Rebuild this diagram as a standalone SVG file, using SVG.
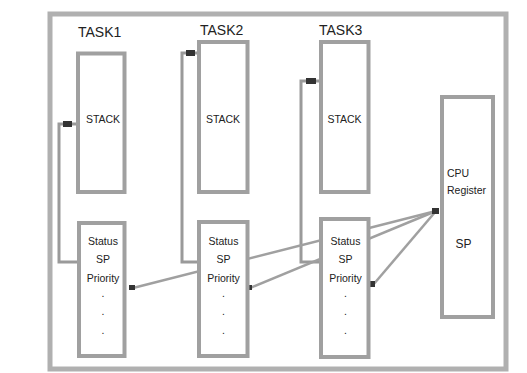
<svg xmlns="http://www.w3.org/2000/svg" width="527" height="373" viewBox="0 0 527 373">
<style>
.frame{fill:#fff;stroke:#b0b0b0;stroke-width:5}
.box{fill:#fff;stroke:#a0a0a0;stroke-width:4}
.wire{fill:none;stroke:#9a9a9a;stroke-width:3}
.diag{fill:none;stroke:#a0a0a0;stroke-width:2.5}
.dot{fill:#333}
text{font-family:"Liberation Sans",Arial,sans-serif;fill:#222}
.title{font-size:14px}
.lbl{font-size:10.5px;text-anchor:middle}
.cpu{font-size:10.5px}
.sp{font-size:12px;text-anchor:middle}
</style>
<rect width="527" height="373" fill="#fff"/>
<rect id="frame" class="frame" x="50" y="14" width="456" height="355"/>
<g id="connectors">
<path class="wire" d="M76 124 H59 V262 H79"/>
<path class="wire" d="M197 53 H182 V262 H199"/>
<path class="wire" d="M319 81 H301 V262 H321"/>
<path class="diag" d="M133 288 L436 211"/>
<path class="diag" d="M250 288 L436 211"/>
<path class="diag" d="M373 285 L436 211"/>
<rect class="dot" x="63" y="121" width="9" height="6"/>
<rect class="dot" x="186" y="50" width="9" height="6"/>
<rect class="dot" x="306" y="78" width="10" height="6"/>
<rect class="dot" x="129" y="285" width="6" height="5"/>
<rect class="dot" x="246" y="285" width="6" height="5"/>
<rect class="dot" x="370" y="281" width="5" height="6"/>
<rect class="dot" x="432" y="208" width="7" height="6"/>
</g>
<g id="task1">
<text class="title" x="78" y="37">TASK1</text>
<g id="stack1"><rect class="box" x="78" y="53.5" width="46.5" height="138.5"/><text class="lbl" x="103" y="123">STACK</text></g>
<g id="tcb1"><rect class="box" x="79" y="223" width="45.5" height="133"/>
<text class="lbl" x="103" y="245">Status</text><text class="lbl" x="103" y="263">SP</text><text class="lbl" x="103" y="282">Priority</text>
<text class="lbl" x="103" y="297">.</text><text class="lbl" x="103" y="315">.</text><text class="lbl" x="103" y="334">.</text></g>
</g>
<g id="task2">
<text class="title" x="200" y="35">TASK2</text>
<g id="stack2"><rect class="box" x="199" y="42" width="48.5" height="150"/><text class="lbl" x="223" y="123">STACK</text></g>
<g id="tcb2"><rect class="box" x="199" y="222" width="48.5" height="134"/>
<text class="lbl" x="223.5" y="245">Status</text><text class="lbl" x="223.5" y="263">SP</text><text class="lbl" x="223.5" y="282">Priority</text>
<text class="lbl" x="223.5" y="297">.</text><text class="lbl" x="223.5" y="315">.</text><text class="lbl" x="223.5" y="334">.</text></g>
</g>
<g id="task3">
<text class="title" x="319" y="35">TASK3</text>
<g id="stack3"><rect class="box" x="321" y="42" width="47.5" height="150"/><text class="lbl" x="344.5" y="123">STACK</text></g>
<g id="tcb3"><rect class="box" x="321" y="219" width="47.5" height="138"/>
<text class="lbl" x="345.5" y="245">Status</text><text class="lbl" x="345.5" y="263">SP</text><text class="lbl" x="345.5" y="282">Priority</text>
<text class="lbl" x="345.5" y="297">.</text><text class="lbl" x="345.5" y="315">.</text><text class="lbl" x="345.5" y="334">.</text></g>
</g>
<g id="cpu">
<rect class="box" x="442" y="97" width="51" height="220"/>
<text class="cpu" x="447" y="177">CPU</text>
<text class="cpu" x="447" y="194">Register</text>
<text class="sp" x="463.5" y="248">SP</text>
</g>
</svg>
